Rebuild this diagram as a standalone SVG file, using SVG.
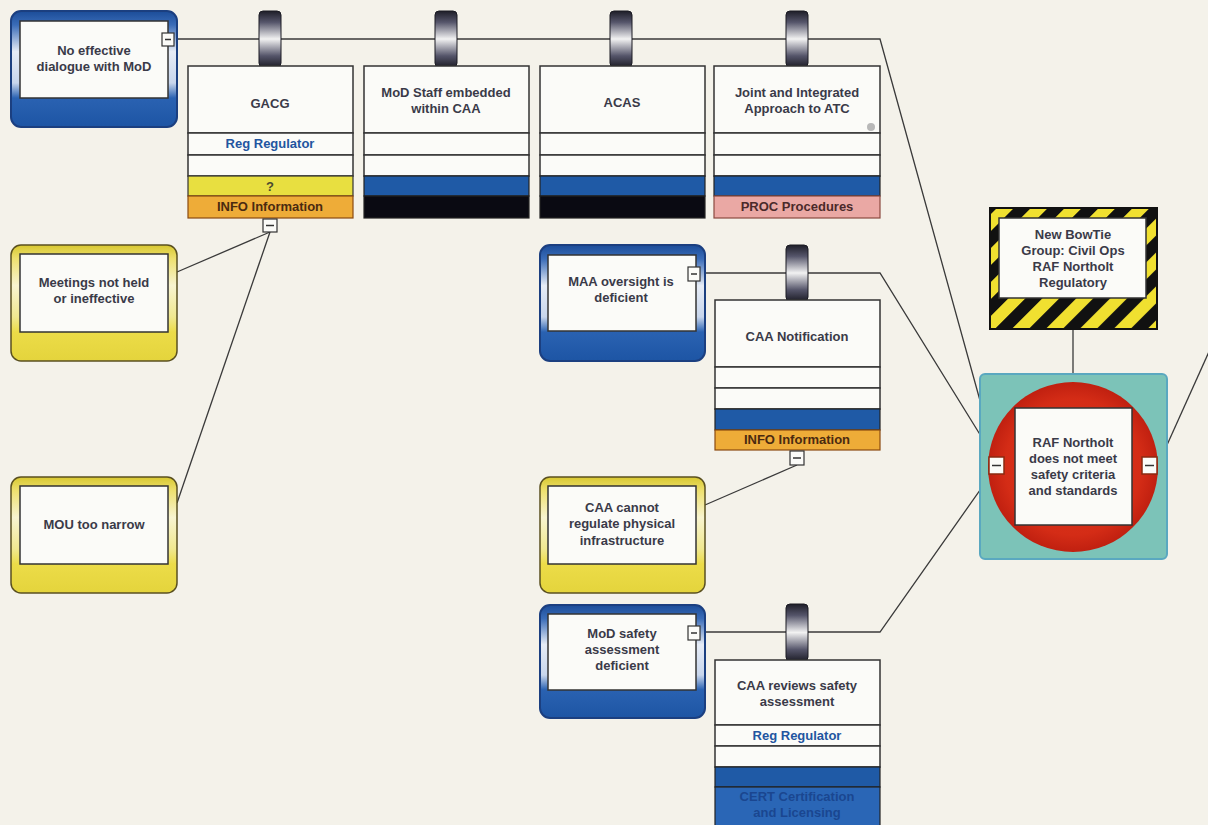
<svg xmlns="http://www.w3.org/2000/svg" width="1208" height="825" viewBox="0 0 1208 825">
<defs>
<linearGradient id="gBlue" x1="0" y1="0" x2="0" y2="1">
<stop offset="0" stop-color="#1b4c98"/><stop offset="0.12" stop-color="#3a6cb8"/><stop offset="0.35" stop-color="#e6ecf6"/><stop offset="0.62" stop-color="#c8d6ec"/><stop offset="0.75" stop-color="#2a62b2"/><stop offset="1" stop-color="#1d55a4"/>
</linearGradient>
<linearGradient id="gYel" x1="0" y1="0" x2="0" y2="1">
<stop offset="0" stop-color="#d8c830"/><stop offset="0.12" stop-color="#eee070"/><stop offset="0.35" stop-color="#f8f4d0"/><stop offset="0.62" stop-color="#f0e890"/><stop offset="0.75" stop-color="#ecdc48"/><stop offset="1" stop-color="#e4d43c"/>
</linearGradient>
<linearGradient id="gTab" x1="0" y1="0" x2="0" y2="1">
<stop offset="0" stop-color="#1e1e28"/><stop offset="0.2" stop-color="#55556a"/><stop offset="0.5" stop-color="#f2f2f2"/><stop offset="0.8" stop-color="#55556a"/><stop offset="1" stop-color="#1e1e28"/>
</linearGradient>
<radialGradient id="gRed" cx="0.5" cy="0.5" r="0.5">
<stop offset="0" stop-color="#e03a20"/><stop offset="0.8" stop-color="#d42c16"/><stop offset="1" stop-color="#c02010"/>
</radialGradient>
<pattern id="hz" width="24" height="24" patternUnits="userSpaceOnUse" patternTransform="rotate(45)">
<rect width="24" height="24" fill="#f0e030"/><rect width="12" height="24" fill="#111"/>
</pattern>
<style>
.bg{fill:#f4f2ea}
.t{font-family:"Liberation Sans",Arial,sans-serif;font-size:13px;font-weight:bold;fill:#3a3a48;text-anchor:middle}
.rb{fill:#2255a0}
.ln{fill:none;stroke:#3a3a3a;stroke-width:1.3}
.inner{fill:#fbfbf8;stroke:#333;stroke-width:1.5}
.row{fill:#fbfbf8;stroke:#333;stroke-width:1.5}
.blu{fill:#1f5aa6;stroke:#222;stroke-width:1.2}
.blk{fill:#0a0a12;stroke:#222;stroke-width:1.2}
.yel{fill:#e8df40;stroke:#333;stroke-width:1.2}
.org{fill:#eeac38;stroke:#8a4a10;stroke-width:1.2}
.pnk{fill:#eaa8a4;stroke:#8a4a40;stroke-width:1.2}
.crt{fill:#2a66b6;stroke:#222;stroke-width:1.2}
.tab{fill:url(#gTab);stroke:#1a1a22;stroke-width:1}
.btn{fill:#fbfbf8;stroke:#333;stroke-width:1.2}
.mn{stroke:#333;stroke-width:1.5}
.tb{stroke:#1b3f80;stroke-width:2}
.ty{stroke:#5a5020;stroke-width:1.5}
</style>
</defs>
<rect class="bg" width="1208" height="825"/>

<g id="connectors">
<polyline class="ln" points="174,39 880,39 997,462"/>
<polyline class="ln" points="700,273 880,273 997,462"/>
<polyline class="ln" points="700,632 880,632 997,466"/>
<line class="ln" x1="177" y1="272" x2="270" y2="232"/>
<line class="ln" x1="177" y1="503" x2="270" y2="232"/>
<line class="ln" x1="705" y1="505" x2="797" y2="465"/>
<line class="ln" x1="1073" y1="328" x2="1073" y2="383"/>
<line class="ln" x1="1158" y1="465" x2="1212" y2="345"/>
</g>

<g id="threat-no-dialogue">
<rect class="tb" x="11" y="11" width="166" height="116" rx="10" fill="url(#gBlue)"/>
<rect class="inner" x="20" y="21" width="148" height="77"/>
<text class="t" x="94" y="55">No effective</text>
<text class="t" x="94" y="71">dialogue with MoD</text>
<rect class="btn" x="162" y="33" width="12" height="13"/><line class="mn" x1="165" y1="39.5" x2="171" y2="39.5"/>
</g>

<g id="threat-meetings">
<rect class="ty" x="11" y="245" width="166" height="116" rx="10" fill="url(#gYel)"/>
<rect class="inner" x="20" y="254" width="148" height="78"/>
<text class="t" x="94" y="287">Meetings not held</text>
<text class="t" x="94" y="303">or ineffective</text>
</g>

<g id="threat-mou">
<rect class="ty" x="11" y="477" width="166" height="116" rx="10" fill="url(#gYel)"/>
<rect class="inner" x="20" y="486" width="148" height="78"/>
<text class="t" x="94" y="529">MOU too narrow</text>
</g>

<g id="threat-maa">
<rect class="tb" x="540" y="245" width="165" height="116" rx="10" fill="url(#gBlue)"/>
<rect class="inner" x="548" y="255" width="148" height="76"/>
<text class="t" x="621" y="286">MAA oversight is</text>
<text class="t" x="621" y="302">deficient</text>
<rect class="btn" x="688" y="267" width="12" height="14"/><line class="mn" x1="691" y1="274" x2="697" y2="274"/>
</g>

<g id="threat-caa-cannot">
<rect class="ty" x="540" y="477" width="165" height="116" rx="10" fill="url(#gYel)"/>
<rect class="inner" x="548" y="486" width="148" height="78"/>
<text class="t" x="622" y="512">CAA cannot</text>
<text class="t" x="622" y="528">regulate physical</text>
<text class="t" x="622" y="545">infrastructure</text>
</g>

<g id="threat-mod-safety">
<rect class="tb" x="540" y="605" width="165" height="113" rx="10" fill="url(#gBlue)"/>
<rect class="inner" x="548" y="614" width="148" height="76"/>
<text class="t" x="622" y="638">MoD safety</text>
<text class="t" x="622" y="654">assessment</text>
<text class="t" x="622" y="670">deficient</text>
<rect class="btn" x="688" y="626" width="12" height="14"/><line class="mn" x1="691" y1="633" x2="697" y2="633"/>
</g>

<g id="barrier-gacg">
<rect class="tab" x="259" y="11" width="22" height="56" rx="4"/>
<rect class="row" x="188" y="66" width="165" height="67"/>
<rect class="row" x="188" y="133" width="165" height="22"/>
<rect class="row" x="188" y="155" width="165" height="21"/>
<rect class="yel" x="188" y="176" width="165" height="20"/>
<rect class="org" x="188" y="196" width="165" height="22"/>
<text class="t" x="270" y="108">GACG</text>
<text class="t rb" x="270" y="148">Reg Regulator</text>
<text class="t" x="270" y="191" style="fill:#4a4a30">?</text>
<text class="t" x="270" y="211" style="fill:#4a2a10">INFO Information</text>
<rect class="btn" x="263" y="219" width="14" height="13"/><line class="mn" x1="266" y1="225.5" x2="274" y2="225.5"/>
</g>

<g id="barrier-mod-staff">
<rect class="tab" x="435" y="11" width="22" height="56" rx="4"/>
<rect class="row" x="364" y="66" width="165" height="67"/>
<rect class="row" x="364" y="133" width="165" height="22"/>
<rect class="row" x="364" y="155" width="165" height="21"/>
<rect class="blu" x="364" y="176" width="165" height="20"/>
<rect class="blk" x="364" y="196" width="165" height="22"/>
<text class="t" x="446" y="97">MoD Staff embedded</text>
<text class="t" x="446" y="113">within CAA</text>
</g>

<g id="barrier-acas">
<rect class="tab" x="610" y="11" width="22" height="56" rx="4"/>
<rect class="row" x="540" y="66" width="165" height="67"/>
<rect class="row" x="540" y="133" width="165" height="22"/>
<rect class="row" x="540" y="155" width="165" height="21"/>
<rect class="blu" x="540" y="176" width="165" height="20"/>
<rect class="blk" x="540" y="196" width="165" height="22"/>
<text class="t" x="622" y="107">ACAS</text>
</g>

<g id="barrier-joint">
<rect class="tab" x="786" y="11" width="22" height="56" rx="4"/>
<rect class="row" x="714" y="66" width="166" height="67"/>
<rect class="row" x="714" y="133" width="166" height="22"/>
<rect class="row" x="714" y="155" width="166" height="21"/>
<rect class="blu" x="714" y="176" width="166" height="20"/>
<rect class="pnk" x="714" y="196" width="166" height="22"/>
<text class="t" x="797" y="97">Joint and Integrated</text>
<text class="t" x="797" y="113">Approach to ATC</text>
<circle cx="871" cy="127" r="4" fill="#b8b8b8"/>
<text class="t" x="797" y="211" style="fill:#4a2a2a">PROC Procedures</text>
</g>

<g id="barrier-caa-notification">
<rect class="tab" x="786" y="245" width="22" height="56" rx="4"/>
<rect class="row" x="715" y="300" width="165" height="67"/>
<rect class="row" x="715" y="367" width="165" height="21"/>
<rect class="row" x="715" y="388" width="165" height="21"/>
<rect class="blu" x="715" y="409" width="165" height="21"/>
<rect class="org" x="715" y="430" width="165" height="20"/>
<text class="t" x="797" y="341">CAA Notification</text>
<text class="t" x="797" y="444" style="fill:#4a2a10">INFO Information</text>
<rect class="btn" x="790" y="451" width="14" height="14"/><line class="mn" x1="793" y1="458" x2="801" y2="458"/>
</g>

<g id="barrier-caa-reviews">
<rect class="tab" x="786" y="604" width="22" height="57" rx="4"/>
<rect class="row" x="715" y="660" width="165" height="65"/>
<rect class="row" x="715" y="725" width="165" height="21"/>
<rect class="row" x="715" y="746" width="165" height="21"/>
<rect class="blu" x="715" y="767" width="165" height="20"/>
<rect class="crt" x="715" y="787" width="165" height="45"/>
<text class="t" x="797" y="690">CAA reviews safety</text>
<text class="t" x="797" y="706">assessment</text>
<text class="t rb" x="797" y="740">Reg Regulator</text>
<text class="t" x="797" y="801" style="fill:#1a4690">CERT Certification</text>
<text class="t" x="797" y="817" style="fill:#1a4690">and Licensing</text>
</g>

<g id="hazard">
<rect x="990" y="208" width="167" height="121" fill="url(#hz)" stroke="#111" stroke-width="2"/>
<rect class="inner" x="999" y="218" width="147" height="80"/>
<text class="t" x="1073" y="239">New BowTie</text>
<text class="t" x="1073" y="255">Group:  Civil Ops</text>
<text class="t" x="1073" y="271">RAF Northolt</text>
<text class="t" x="1073" y="287">Regulatory</text>
</g>

<g id="top-event">
<rect x="980" y="374" width="187" height="185" rx="5" fill="#7cc3b8" stroke="#5aa8c0" stroke-width="2"/>
<circle cx="1073" cy="467" r="85" fill="url(#gRed)"/>
<rect class="inner" x="1015" y="408" width="117" height="117"/>
<text class="t" x="1073" y="447">RAF Northolt</text>
<text class="t" x="1073" y="463">does not meet</text>
<text class="t" x="1073" y="479">safety criteria</text>
<text class="t" x="1073" y="495">and standards</text>
<rect x="989" y="457" width="15" height="17" fill="#fbfbf8" stroke="#8a2a10" stroke-width="1.5"/><line class="mn" x1="992" y1="465.5" x2="1001" y2="465.5"/>
<rect x="1142" y="457" width="15" height="17" fill="#fbfbf8" stroke="#8a2a10" stroke-width="1.5"/><line class="mn" x1="1145" y1="465.5" x2="1154" y2="465.5"/>
</g>
</svg>
